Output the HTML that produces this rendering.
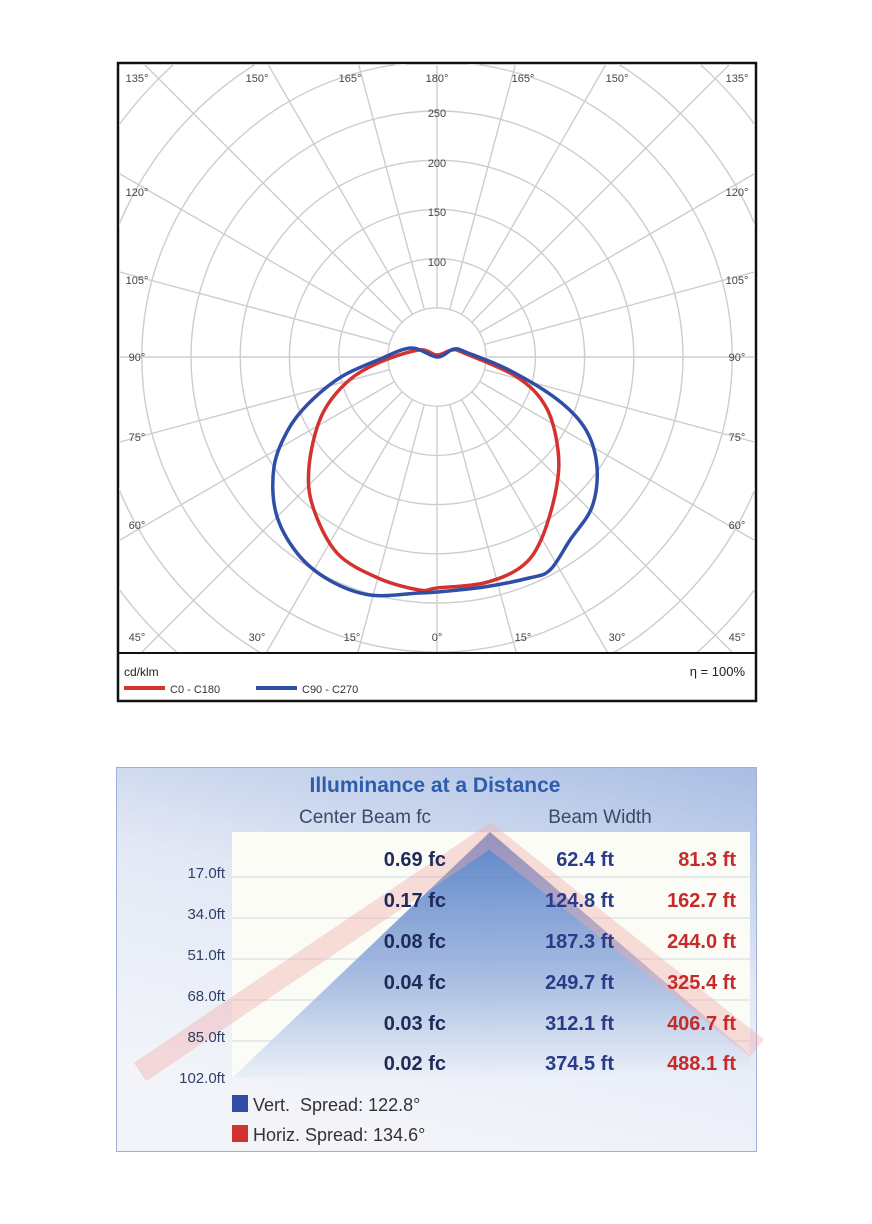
<!DOCTYPE html>
<html><head><meta charset="utf-8"><style>
body{margin:0;background:#fff;width:872px;height:1224px;position:relative;font-family:"Liberation Sans",sans-serif;}
svg{position:absolute;left:0;top:0}
</style></head><body>
<svg id="s" width="872" height="1224" viewBox="0 0 872 1224" xmlns="http://www.w3.org/2000/svg">
<defs>
<clipPath id="pc"><rect x="119" y="64" width="636" height="589"/></clipPath>
<linearGradient id="bg" x1="1" y1="0" x2="0.6" y2="1">
<stop offset="0" stop-color="#a9bde3"/><stop offset="0.5" stop-color="#e2e8f5"/><stop offset="1" stop-color="#f2f4fa"/></linearGradient>
<linearGradient id="bt" x1="0" y1="0" x2="0" y2="1">
<stop offset="0" stop-color="#3f6fc0"/><stop offset="0.6" stop-color="#9bb3de"/><stop offset="1" stop-color="#e8eef8"/></linearGradient>
</defs>
<rect x="118" y="63" width="638" height="638" fill="#fff" stroke="#111" stroke-width="2.5"/>
<g id="grid" clip-path="url(#pc)" stroke="#cdcdcd" stroke-width="1.4" fill="none"></g>
<g id="lab" font-size="11" fill="#444" font-family="Liberation Sans,sans-serif"></g>
<g clip-path="url(#pc)" fill="none" stroke-width="3.5" stroke-linejoin="round">
<path id="rp" stroke="#d4322f"/>
<path id="bp" stroke="#2f4ea6"/>
</g>
<line x1="119" y1="653" x2="755" y2="653" stroke="#111" stroke-width="2"/>
<text x="124" y="676" font-size="12" fill="#222">cd/klm</text>
<line x1="124" y1="688" x2="165" y2="688" stroke="#d4322f" stroke-width="4"/>
<text x="170" y="693" font-size="11" fill="#333">C0 - C180</text>
<line x1="256" y1="688" x2="297" y2="688" stroke="#2f4ea6" stroke-width="4"/>
<text x="302" y="693" font-size="11" fill="#333">C90 - C270</text>
<text x="745" y="676" font-size="13" fill="#222" text-anchor="end">η = 100%</text>

<rect x="116.5" y="767.5" width="640" height="384" fill="url(#bg)" stroke="#9fb1d6"/>
<rect x="232" y="832" width="518" height="246" fill="#fbfcf6"/>
<g stroke="#dfe3ea" stroke-width="1.5">
<line x1="232" y1="877" x2="750" y2="877"/><line x1="232" y1="918" x2="750" y2="918"/><line x1="232" y1="959" x2="750" y2="959"/><line x1="232" y1="1000" x2="750" y2="1000"/><line x1="232" y1="1041" x2="750" y2="1041"/>
<line x1="488" y1="832" x2="488" y2="1078"/></g>
<polygon points="490,832 232,1078 750,1078 750,1055" fill="url(#bt)" opacity="0.85"/>
<polyline points="140,1072 490,836 757,1048" fill="none" stroke="#f3a9a9" stroke-width="22" opacity="0.4"/>
<text x="435" y="792" font-size="21" font-weight="bold" fill="#2c5cab" text-anchor="middle">Illuminance at a Distance</text>
<text x="365" y="823" font-size="19" fill="#3a4a6a" text-anchor="middle">Center Beam fc</text>
<text x="600" y="823" font-size="19" fill="#3a4a6a" text-anchor="middle">Beam Width</text>
<g font-size="20" font-weight="bold" text-anchor="end">
<g fill="#1e2a5a"><text x="446" y="866">0.69 fc</text><text x="446" y="907">0.17 fc</text><text x="446" y="948">0.08 fc</text><text x="446" y="989">0.04 fc</text><text x="446" y="1030">0.03 fc</text><text x="446" y="1070">0.02 fc</text></g>
<g fill="#2a3b8a"><text x="614" y="866">62.4 ft</text><text x="614" y="907">124.8 ft</text><text x="614" y="948">187.3 ft</text><text x="614" y="989">249.7 ft</text><text x="614" y="1030">312.1 ft</text><text x="614" y="1070">374.5 ft</text></g>
<g fill="#c62a2a"><text x="736" y="866">81.3 ft</text><text x="736" y="907">162.7 ft</text><text x="736" y="948">244.0 ft</text><text x="736" y="989">325.4 ft</text><text x="736" y="1030">406.7 ft</text><text x="736" y="1070">488.1 ft</text></g>
</g>
<g font-size="15" fill="#2f3f66" text-anchor="end">
<text x="225" y="878">17.0ft</text><text x="225" y="919">34.0ft</text><text x="225" y="960">51.0ft</text><text x="225" y="1001">68.0ft</text><text x="225" y="1042">85.0ft</text><text x="225" y="1083">102.0ft</text></g>
<rect x="232" y="1095" width="16" height="17" fill="#2f4ea6"/>
<rect x="232" y="1125" width="16" height="17" fill="#d4322f"/>
<text x="253" y="1111" font-size="18" fill="#333">Vert.&#160;&#160;Spread: 122.8°</text>
<text x="253" y="1141" font-size="18" fill="#333">Horiz. Spread: 134.6°</text>
</svg>
<script>
var NS="http://www.w3.org/2000/svg",cx=437,cy=357,k=49.2/50;
var g=document.getElementById("grid"),lab=document.getElementById("lab");
function el(t,a,p){var e=document.createElementNS(NS,t);for(var i in a)e.setAttribute(i,a[i]);p.appendChild(e);return e;}
for(var v=50;v<=500;v+=50)el("circle",{cx:cx,cy:cy,r:v*k},g);
for(var a=0;a<360;a+=15){var r=a*Math.PI/180;el("line",{x1:cx+49.2*Math.sin(r),y1:cy+49.2*Math.cos(r),x2:cx+700*Math.sin(r),y2:cy+700*Math.cos(r)},g);}
[[100,266],[150,216],[200,167],[250,117]].forEach(function(p){var t=el("text",{x:cx,y:p[1],"text-anchor":"middle"},lab);t.textContent=p[0];});
var L=[["135°",137,82],["150°",257,82],["165°",350,82],["180°",437,82],["165°",523,82],["150°",617,82],["135°",737,82],
["120°",137,196],["105°",137,284],["90°",137,361],["75°",137,441],["60°",137,529],["45°",137,641],
["120°",737,196],["105°",737,284],["90°",737,361],["75°",737,441],["60°",737,529],["45°",737,641],
["30°",257,641],["15°",352,641],["0°",437,641],["15°",523,641],["30°",617,641]];
L.forEach(function(p){var t=el("text",{x:p[1],y:p[2],"text-anchor":"middle"},lab);t.textContent=p[0];});
function smooth(P){var n=P.length,d="M"+P[0][0]+","+P[0][1];
for(var i=0;i<n;i++){var p0=P[(i-1+n)%n],p1=P[i],p2=P[(i+1)%n],p3=P[(i+2)%n];
d+=" C"+(p1[0]+(p2[0]-p0[0])/6).toFixed(1)+","+(p1[1]+(p2[1]-p0[1])/6).toFixed(1)+" "+(p2[0]-(p3[0]-p1[0])/6).toFixed(1)+","+(p2[1]-(p3[1]-p1[1])/6).toFixed(1)+" "+p2[0]+","+p2[1];}
return d+"Z";}
var R=[[437,355],[452,350],[464,353],[517,377],[546,407],[558,450],[556,490],[541,540],[521,567],[484,583],[437,588],[419,590],[378,578],[337,553],[313,507],[309,467],[321,417],[346,383],[378,363],[419,350]];
var B=[[437,357],[454,349],[468,353],[509,370],[558,400],[586,430],[597,467],[592,507],[570,540],[550,570],[529,578],[484,587],[437,592],[419,593],[370,595],[329,580],[297,553],[276,513],[274,467],[288,430],[309,403],[341,377],[378,360],[411,348]];
document.getElementById("rp").setAttribute("d",smooth(R));
document.getElementById("bp").setAttribute("d",smooth(B));
</script>
</body></html>
